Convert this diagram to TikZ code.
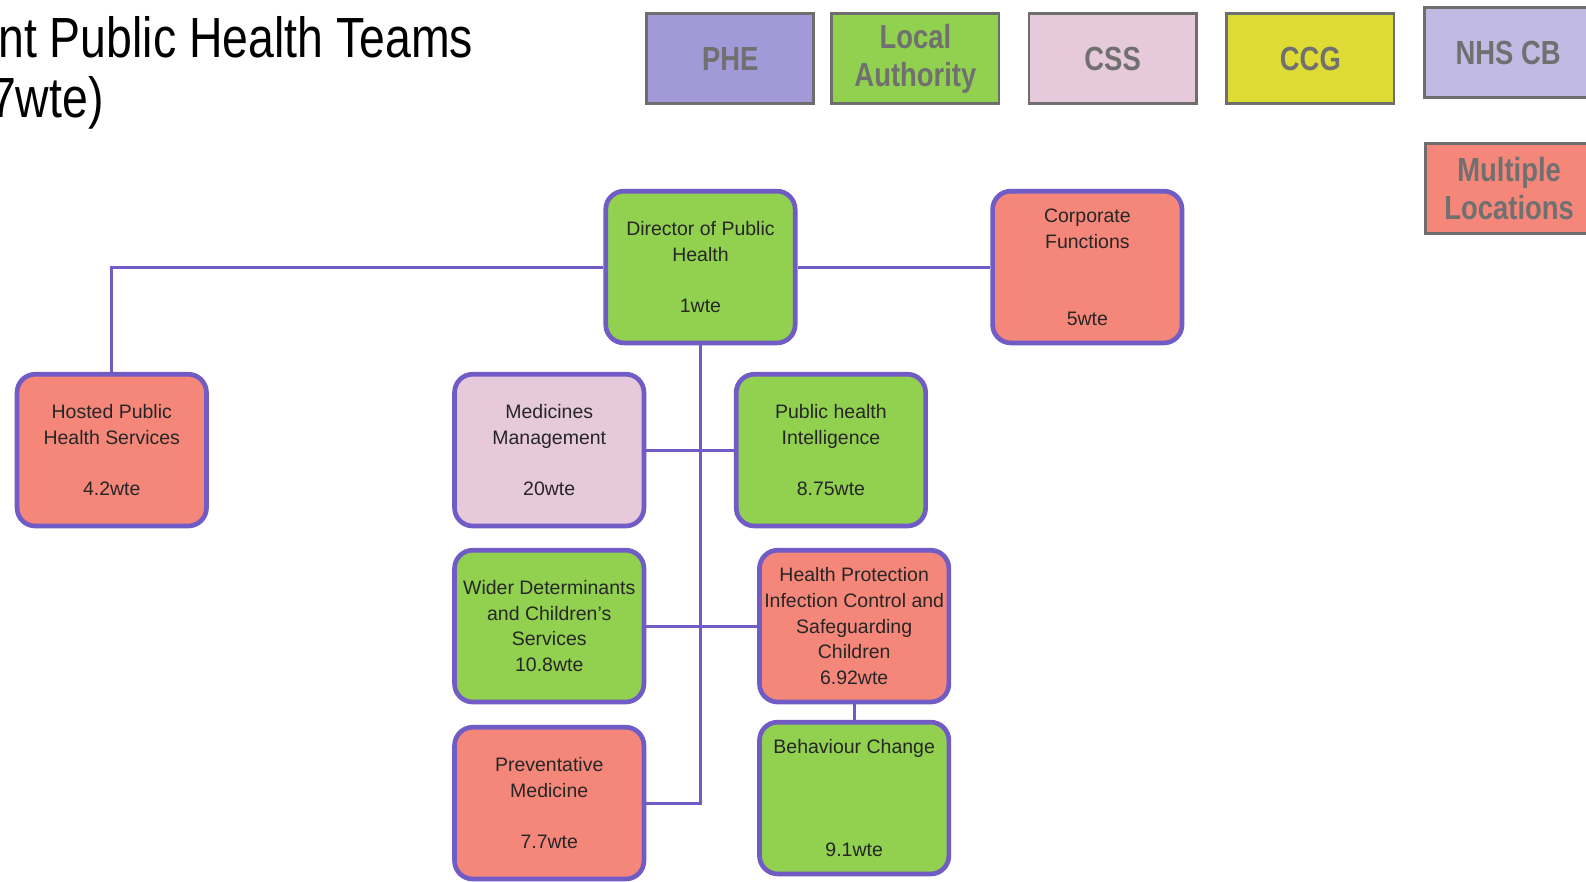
\documentclass[tikz,border=0pt]{standalone}
\usepackage{fontspec}
\setmainfont{Liberation Sans}
\newfontfamily\titlefont{Liberation Sans}[FakeStretch=0.82]
\newfontfamily\keyfont{Liberation Sans}[FakeStretch=0.82]

\definecolor{teamline}{RGB}{112,92,196}
\definecolor{lagreen}{RGB}{146,208,80}
\definecolor{multisalmon}{RGB}{245,135,122}
\definecolor{csspink}{RGB}{230,201,218}
\definecolor{phepurple}{RGB}{162,153,216}
\definecolor{nhslilac}{RGB}{193,186,226}
\definecolor{ccgyellow}{RGB}{222,220,52}
\definecolor{keyline}{RGB}{110,110,110}
\definecolor{keytext}{RGB}{112,112,112}

\begin{document}
\begin{tikzpicture}[x=0.025cm, y=-0.025cm,
                teambox/.style = {draw=teamline, line width=3.3pt, rounded corners=0.45cm,
                                  minimum width=4.68cm, minimum height=3.75cm, align=center,
                                  inner sep=0pt, text=black!85,
                                  font=\fontsize{13.7}{18.1}\selectfont},
                keybox/.style = {draw=keyline, line width=2pt, minimum width=4.13cm,
                                 minimum height=2.23cm, align=center, inner sep=0pt,
                                 text=keytext, font=\keyfont\bfseries\fontsize{23.5}{26.3}\selectfont},
                link/.style = {draw=teamline, line width=2.1pt}
            ]
            \useasboundingbox (0,0) rectangle (1568,871);
            \clip (0,0) rectangle (1568,871);
            % title, cut at the left edge
            \node[anchor=base west, inner sep=0pt, font=\titlefont\fontsize{39.8}{44}\selectfont] (title1) at (-2,57) {nt Public Health Teams};
            \node[anchor=base west, inner sep=0pt, font=\titlefont\fontsize{39.8}{44}\selectfont] (title2) at (-10,116) {7wte)};
            % key
            \node[keybox, fill=phepurple] (phe) at (722,58) {PHE};
            \node[keybox, fill=lagreen] (la) at (905,58) {Local\\Authority};
            \node[keybox, fill=csspink] (css) at (1100,58) {CSS};
            \node[keybox, fill=ccgyellow] (ccg) at (1295.5,58) {CCG};
            \node[keybox, fill=nhslilac] (nhscb) at (1491,52) {NHS CB};
            \node[keybox, fill=multisalmon] (multi) at (1492,186.5) {Multiple\\Locations};
            % teams
            \node[teambox, fill=lagreen] (dph) at (692.5,264) {Director of Public\\Health\\~\\1wte};
            \node[teambox, fill=multisalmon] (corp) at (1075,264) {Corporate\\Functions\\~\\~\\5wte};
            \node[teambox, fill=multisalmon] (hosted) at (110.5,445) {Hosted Public\\Health Services\\~\\4.2wte};
            \node[teambox, fill=csspink] (meds) at (543,445) {Medicines\\Management\\~\\20wte};
            \node[teambox, fill=lagreen] (phi) at (821.5,445) {Public health\\Intelligence\\~\\8.75wte};
            \node[teambox, fill=lagreen] (wider) at (543,619) {Wider Determinants\\and Children's\\Services\\10.8wte};
            \node[teambox, fill=multisalmon] (hp) at (844.5,619) {Health Protection\\Infection Control and\\Safeguarding\\Children\\6.92wte};
            \node[teambox, fill=multisalmon] (prev) at (543,794) {Preventative\\Medicine\\~\\7.7wte};
            \node[teambox, fill=lagreen] (bc) at (844.5,789) {Behaviour Change\\~\\~\\~\\9.1wte};
            % links
            \draw[link] (dph.west) -| (hosted.north);
            \draw[link] (dph.east) -- (corp.west);
            \draw[link] (dph.south) |- (prev.east);
            \draw[link] (meds.east) -- (phi.west);
            \draw[link] (wider.east) -- (hp.west);
            \draw[link] (hp.south) -- (bc.north);
        \end{tikzpicture}
\end{document}
